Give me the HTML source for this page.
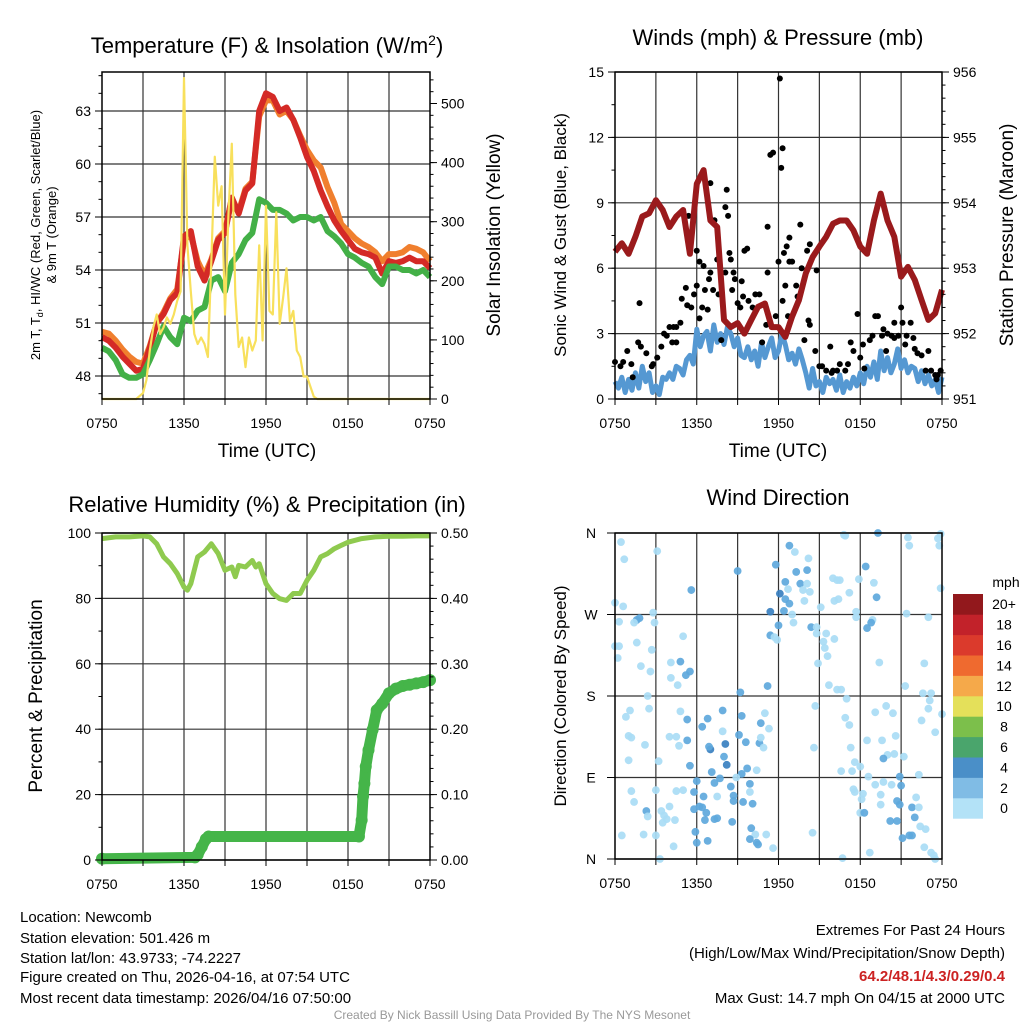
<!DOCTYPE html>
<html><head><meta charset="utf-8"><style>
html,body{margin:0;padding:0;background:#fff;}
svg{display:block;font-family:"Liberation Sans",sans-serif;}
</style></head><body>
<svg id="fig" width="1024" height="1024" viewBox="0 0 1024 1024" xmlns="http://www.w3.org/2000/svg">
<g id="layer"></g>
<text x="267" y="53" font-size="22" text-anchor="middle">Temperature (F) &amp; Insolation (W/m<tspan dy="-8" font-size="14">2</tspan><tspan dy="8">)</tspan></text>
<text x="778" y="45" font-size="22" text-anchor="middle">Winds (mph) &amp; Pressure (mb)</text>
<text x="267" y="512" font-size="22" text-anchor="middle">Relative Humidity (%) &amp; Precipitation (in)</text>
<text x="778" y="505" font-size="22" text-anchor="middle">Wind Direction</text>
<text x="267" y="457" font-size="19" text-anchor="middle">Time (UTC)</text>
<text x="778" y="457" font-size="19" text-anchor="middle">Time (UTC)</text>
<g font-size="13" text-anchor="middle">
<text transform="translate(40,235) rotate(-90)">2m T, T<tspan dy="3" font-size="9">d</tspan><tspan dy="-3">, HI/WC (Red, Green, Scarlet/Blue)</tspan></text>
<text transform="translate(56,235) rotate(-90)">&amp; 9m T (Orange)</text>
</g>
<text transform="translate(500,235) rotate(-90)" font-size="19" text-anchor="middle">Solar Insolation (Yellow)</text>
<text transform="translate(566,235) rotate(-90)" font-size="17" text-anchor="middle">Sonic Wind &amp; Gust (Blue, Black)</text>
<text transform="translate(1013,235) rotate(-90)" font-size="19" text-anchor="middle">Station Pressure (Maroon)</text>
<text transform="translate(42,696) rotate(-90)" font-size="19" text-anchor="middle">Percent &amp; Precipitation</text>
<text transform="translate(566,696) rotate(-90)" font-size="17" text-anchor="middle">Direction (Colored By Speed)</text>
<g font-size="15">
<text x="20" y="922">Location: Newcomb</text>
<text x="20" y="943">Station elevation: 501.426 m</text>
<text x="20" y="963">Station lat/lon: 43.9733; -74.2227</text>
<text x="20" y="982">Figure created on Thu, 2026-04-16, at 07:54 UTC</text>
<text x="20" y="1003">Most recent data timestamp: 2026/04/16 07:50:00</text>
</g>
<g font-size="15" text-anchor="end">
<text x="1005" y="935">Extremes For Past 24 Hours</text>
<text x="1005" y="958">(High/Low/Max Wind/Precipitation/Snow Depth)</text>
<text x="1005" y="981" fill="#cc2222" font-weight="bold">64.2/48.1/4.3/0.29/0.4</text>
<text x="1005" y="1003">Max Gust: 14.7 mph On 04/15 at 2000 UTC</text>
</g>
<text x="512" y="1019" font-size="12" fill="#999" text-anchor="middle">Created By Nick Bassill Using Data Provided By The NYS Mesonet</text>
</svg>
<script>
// ---- data ----
const xTickLabels = ["0750","1350","1950","0150","0750"];
const tempHours = [0,0.5,1,1.5,2,2.5,3,3.5,4,4.5,5,5.5,6,6.5,7,7.5,8,8.5,9,9.5,10,10.5,11,11.5,12,12.5,13,13.5,14,14.5,15,15.5,16,16.5,17,17.5,18,18.5,19,19.5,20,20.5,21,21.5,22,22.5,23,23.5,24];
const temp2m = [50.2,50.0,49.6,49.1,48.7,48.3,48.4,49.6,51.0,51.5,52.3,52.7,55.9,56.2,54.2,53.4,54.5,55.7,56.1,58.1,57.2,58.5,58.9,63.0,64.0,63.8,63.0,63.2,62.5,61.5,60.4,59.6,58.5,57.6,56.8,56.2,55.7,55.2,55.0,54.9,54.7,53.8,54.5,54.4,54.5,54.7,54.5,54.5,54.1];
const temp9m = [50.5,50.4,50.0,49.5,49.1,48.8,48.7,49.7,51.0,51.6,52.4,52.9,55.7,56.0,54.5,53.7,54.6,55.8,56.2,58.0,57.3,58.6,59.0,62.7,63.6,63.6,62.8,63.0,62.5,61.6,60.8,60.2,59.8,58.7,57.8,56.6,56.2,55.8,55.5,55.3,55.0,54.5,54.9,54.9,55.0,55.3,55.2,55.0,54.5];
const dewPoint = [49.6,49.4,48.9,48.1,47.9,47.9,48.1,48.9,49.8,50.8,50.2,49.8,51.3,51.1,51.7,51.9,53.4,53.6,52.8,54.4,54.9,55.7,56.1,58.0,57.8,57.4,57.4,57.2,56.8,57.0,57.0,56.8,57.0,56.2,55.9,55.5,54.9,54.7,54.4,54.2,53.6,53.2,54.2,54.2,54.0,54.0,53.8,54.0,53.6];
const solarHours = [0,2.5,3,3.25,3.5,3.75,4,4.25,4.5,4.75,5,5.25,5.5,5.75,6,6.25,6.5,6.75,7,7.25,7.5,7.75,8,8.25,8.5,8.75,9,9.25,9.5,9.75,10,10.25,10.5,10.75,11,11.25,11.5,11.75,12,12.25,12.5,12.75,13,13.25,13.5,13.75,14,14.25,14.5,14.75,15,15.25,15.5,15.75,24];
const solar = [0,0,10,32,82,121,143,110,121,138,127,143,166,182,543,260,182,110,93,104,93,71,232,410,327,360,143,310,432,177,88,104,54,104,82,99,260,99,327,149,143,316,127,171,221,132,149,82,71,38,38,21,4,0,0];
const pressHours = tempHours;
const pressure = [953.25,953.38,953.22,953.48,953.79,953.84,954.04,953.89,953.63,953.79,953.89,953.22,954.29,954.50,953.73,953.63,952.21,952.10,952.16,952.00,952.21,952.41,952.46,952.10,952.10,951.95,952.26,952.51,952.92,953.17,953.33,953.48,953.68,953.73,953.73,953.58,953.33,953.22,953.73,954.14,953.73,953.48,952.87,953.02,952.82,952.51,952.21,952.31,952.67];
const windSpeed = [0.8,0.5,1.0,0.3,0.9,0.4,1.2,0.5,1.5,0.8,1.2,0.3,0.6,0.2,1.0,0.9,1.2,0.9,1.5,1.4,1.1,1.8,2.0,1.6,3.2,2.4,2.9,3.1,2.2,3.4,2.6,3.0,2.5,3.3,3.0,2.4,2.8,2.0,1.9,2.4,1.8,2.2,1.5,2.6,1.9,2.4,2.8,1.9,2.2,3.0,2.5,1.8,2.1,1.6,2.3,1.8,1.2,0.5,1.4,0.6,0.8,0.3,1.0,0.7,0.9,0.4,1.1,0.3,0.8,0.5,1.0,0.6,1.2,0.7,1.5,1.0,1.7,0.9,2.2,1.3,1.9,1.2,1.6,2.3,1.4,1.8,1.2,1.5,1.4,0.8,1.3,0.7,1.1,0.6,0.9,0.3,1.0];
const gustHours = [0,0.4,0.6,0.9,1.2,1.3,1.8,1.7,1.9,2.3,2.7,2.8,3.1,3.4,3.6,3.8,4.0,4.2,4.3,4.5,4.5,4.8,4.9,5.2,5.3,5.4,5.6,5.8,6.0,6.0,6.2,6.2,6.4,6.5,6.6,6.8,6.9,7.0,7.0,7.2,7.3,7.5,7.6,7.8,8.1,8.1,8.2,8.3,8.4,8.5,8.6,8.7,8.8,9.0,9.2,9.3,9.4,9.5,9.7,9.8,10.1,10.3,10.6,10.8,11.1,11.2,11.2,11.4,11.6,11.8,12.0,12.1,12.2,12.3,12.3,12.4,12.5,12.6,12.8,12.8,13.0,12.7,13.3,13.4,13.6,13.7,14.1,14.3,14.2,14.3,13.9,14.8,14.7,15.2,15.8,15.5,15.9,16.3,16.5,16.9,17.1,17.3,17.5,17.8,18.0,18.2,18.3,18.7,18.9,19.1,19.3,19.6,19.7,19.9,20.0,20.3,20.5,20.5,20.8,21.0,21.1,21.3,21.4,21.7,21.9,22.0,22.2,22.5,22.8,23.0,23.2,23.5,23.7,23.9,23.6,15.0,16.0];
const gustSpeed = [1.7,1.5,1.7,2.2,1.6,1.0,4.4,2.6,2.4,2.1,1.5,1.6,1.9,2.4,3.0,2.9,3.3,2.6,3.3,2.6,3.3,3.5,4.6,5.1,4.3,8.4,4.2,4.8,5.2,6.8,6.3,3.7,4.2,6.1,5.0,4.1,5.5,5.8,9.9,5.0,8.2,6.4,4.8,2.7,5.8,8.8,9.6,8.4,6.7,6.4,5.0,5.8,5.5,4.4,4.2,5.4,4.7,6.8,6.9,4.5,4.2,4.8,4.8,2.6,3.4,5.8,7.9,11.2,11.3,3.8,6.3,14.7,10.6,11.5,4.5,6.7,5.2,7.0,7.4,6.3,6.3,3.8,5.2,4.7,8.0,6.0,6.8,7.1,3.6,3.4,2.7,5.9,2.2,1.5,2.4,1.3,1.2,1.3,1.6,1.3,1.6,2.6,2.2,3.9,1.9,2.5,1.4,2.7,2.9,3.8,3.8,2.9,3.2,2.2,3.0,2.9,3.5,2.8,2.9,4.2,3.5,2.5,2.9,3.5,2.8,2.3,2.1,2.0,1.3,2.2,1.3,1.1,1.1,1.3,0.9,1.5,1.3];
const rhHours = [0,1,2,3,3.5,4,4.5,5,5.5,6,6.25,6.5,7,7.5,8,8.5,9,9.5,9.75,10,10.5,11,11.25,11.5,12,12.5,13,13.5,14,14.5,15,15.5,16,16.5,17,17.5,18,19,20,21,22,23,24];
const rh = [98.3,98.8,98.8,99.1,98.8,96.7,92.7,90.6,87.6,83.5,82.5,84.5,92.7,94.2,96.7,93.7,88.6,89.6,86.6,90.1,89.6,91.6,89.6,90.6,84.5,81.5,79.9,79.4,81.5,81.5,85.5,88.6,92.7,93.7,95.2,96.2,97.2,98.3,98.8,99.0,99.0,99.1,99.1];
const precipHours = [0,6.8,7.0,7.3,7.6,7.8,18.8,19.0,19.1,19.2,19.3,19.5,19.8,20.1,20.5,21.0,21.5,22.0,22.5,23.0,23.5,24];
const precip = [0.002,0.004,0.008,0.02,0.032,0.036,0.036,0.061,0.097,0.117,0.143,0.168,0.199,0.229,0.239,0.255,0.262,0.266,0.268,0.270,0.272,0.275];
const dirHours = [0.44,0.68,3.1,0,0.6,0.3,0,0.3,0.2,1.6,1.8,1.4,2.8,2.9,1.6,1.9,2.6,2.7,5.0,5.6,4.1,4.8,5.5,5.2,4.1,4.6,2.4,2.5,0.8,1.1,1.0,1.2,2.2,1.0,3.2,4.8,5.3,4.0,4.5,4.7,5.3,5.5,1.2,1.4,2.3,2.4,0.5,2.1,3.0,3.0,3.3,3.4,4.0,3.6,3.8,3.5,4.4,4.3,4.5,5.0,5.8,5.8,6.2,6.0,6.4,6.7,6.6,7.3,7.5,5.9,6.0,6.8,6.5,7.5,8.6,8.5,8.7,8.7,9.4,10.1,9.9,10.0,10.3,9.9,10.4,10.5,11.1,11.6,7.1,7.3,7.7,7.0,6.9,8.1,8.0,8.2,7.9,6.4,6.8,7.9,9.3,9.1,9.6,9.3,9.7,9.9,8.9,10.4,10.6,10.7,10.9,10.7,11.0,11.3,9.2,11.2,9.0,11.8,12.8,13.2,13.3,14.1,14.2,12.5,12.1,12.7,12.5,12.8,11.4,12.4,13.0,13.1,12.0,11.4,11.7,11.9,13.6,13.8,14.3,13.9,14.1,14.4,14.8,14.8,15.5,15.1,15.3,15.4,15.6,16.1,14.9,14.7,14.6,14.5,15.7,16.3,16.6,17.0,16.9,17.2,17.3,17.6,17.4,16.6,17.5,17.6,18.0,18.2,18.1,18.0,18.3,16.7,18.7,18.5,19.1,19.6,18.6,19.1,19.5,19.5,19.7,20.3,20.7,20.9,21.0,20.9,21.2,20.5,20.0,19.7,19.9,20.4,20.6,21.3,19.4,20.2,20.7,21.1,21.6,21.8,22.0,21.8,22.1,22.3,22.4,22.8,22.7,23.2,23.4,23.5,22.3,22.5,23.0,23.1,22.6,23.2,23.5,24,22.7,23.0,21.4,23.9,23.8,23.7,23.9,21.5,21.6,19.3,16.8,16.9,18.4,19.0,19.2,17.9,17.2,16.0,16.3,16.5,16.1,16.4,17.7,17.7,18.9,18.5,18.8];
const dirDegrees = [350,331,340,283,279,262,235,235,222,264,266,261,272,261,239,213,207,231,246,297,217,218,207,203,200,192,180,166,157,164,136,134,126,109,108,163,154,135,135,125,131,103,75,63,53,47,26,27,26,76,0,53,58,48,44,40,43,14,75,76,74,55,58,86,57,51,43,44,45,30,18,20,69,69,41,80,70,64,63,61,74,34,27,22,18,16,27,12,96,84,89,121,124,127,113,104,141,146,155,164,158,137,129,94,100,83,90,98,128,134,123,150,161,144,184,191,318,325,346,339,317,319,332,306,293,298,287,282,273,274,270,261,258,247,245,242,304,297,295,285,304,256,256,249,249,278,240,233,224,243,216,169,123,29,192,187,187,177,156,148,123,107,97,97,77,74,102,72,66,51,51,1,7,131,162,131,91,82,71,60,85,82,64,60,81,91,113,116,115,111,169,161,136,191,217,42,42,23,26,26,46,57,68,57,36,33,13,7,4,0,93,153,166,175,183,183,140,160,216,267,271,299,346,354,359,355,346,360,358,357,323,305,289,309,294,310,308,308,285,287,273,267,264,255,261];
const dirSpeed = [1,1,1,1,1,1,1,1,1,3,3,1,1,1,1,1,1,1,1,3,1,3,3,3,1,1,1,1,1,1,1,1,1,1,1,1,3,1,1,1,3,3,1,1,3,1,1,1,1,1,1,1,1,1,1,1,1,1,1,1,3,3,3,3,3,3,3,3,3,3,3,3,3,1,3,3,3,3,3,3,1,3,1,3,3,3,1,1,3,3,3,5,3,5,3,5,1,3,3,3,3,3,3,3,3,3,1,1,3,1,1,3,1,1,3,3,3,3,3,1,3,3,1,3,5,1,3,3,5,3,1,1,3,3,1,1,3,1,1,1,1,3,1,1,1,1,1,1,1,1,1,1,1,1,1,1,1,1,1,1,1,1,1,1,1,1,1,1,1,1,3,1,1,1,1,1,1,1,1,1,1,1,3,3,3,3,1,1,1,3,1,1,1,1,1,3,3,3,3,3,3,3,1,1,1,1,1,1,1,1,1,1,1,1,1,1,1,1,1,1,1,1,1,1,1,1,1,3,1,1,3,1,3,1,1,1,1,1,1,1,1,1,1,3,3,3];
const colorbarLabels = ["0","2","4","6","8","10","12","14","16","18","20+"];
const colorbarColors = ["#b3e2f7","#80bce5","#4a8fc8","#4aa56c","#7cbf4b","#e4e05a","#f5a94a","#ef6a2f","#db3a2c","#c2222a","#92181c"];

// ---- helpers ----
const NS = "http://www.w3.org/2000/svg";
const layer = document.getElementById("layer");
function mk(tag, attrs, parent) {
  const e = document.createElementNS(NS, tag);
  for (const k in attrs) e.setAttribute(k, attrs[k]);
  (parent || layer).appendChild(e);
  return e;
}
function linScale(d0, d1, r0, r1) { return v => r0 + (v - d0) / (d1 - d0) * (r1 - r0); }
function pathD(xs, ys, fx, fy) { return xs.map((h, i) => (i ? "L" : "M") + fx(h).toFixed(1) + "," + fy(ys[i]).toFixed(1)).join(""); }

function frame(name, x0, x1, y0, y1, hLines) {
  const g = mk("g", {});
  
  
  const fx = linScale(0, 24, x0, x1);
  for (let h = 3; h < 24; h += 3) {
    const l = mk("line", {x1: fx(h), x2: fx(h), y1: y0, y2: y1, stroke: "#333", "stroke-width": 1.2}, g);
    
    
  }
  hLines.forEach(y => {
    const l = mk("line", {x1: x0, x2: x1, y1: y, y2: y, stroke: "#333", "stroke-width": 1.2}, g);
    
    
  });
  return {g, fx};
}
function border(x0, x1, y0, y1) {
  const r = mk("rect", {x: x0, y: y0, width: x1 - x0, height: y1 - y0, fill: "none", stroke: "#000", "stroke-width": 1.5});
  
  
}
function xAxis(fx, y1) {
  for (let h = 0; h <= 24; h += 3) mk("line", {x1: fx(h), x2: fx(h), y1: y1, y2: y1 + 6, stroke: "#000"});
  xTickLabels.forEach((lab, i) => {
    const t = mk("text", {x: fx(i * 6), y: y1 + 29, "font-size": 14, "text-anchor": "middle"});
    t.textContent = lab;
    
    
  });
}
function yTicks(vals, labels, fy, x, side, minorVals, yTop, yBot) {
  const dir = side === "left" ? -1 : 1;
  (minorVals || []).forEach(v => {
    const y = fy(v);
    if (y < yTop - 0.5 || y > yBot + 0.5) return;
    mk("line", {x1: x, x2: x + dir * 3.5, y1: y, y2: y, stroke: "#000"});
  });
  vals.forEach((v, i) => {
    mk("line", {x1: x, x2: x + dir * 7, y1: fy(v), y2: fy(v), stroke: "#000"});
    const t = mk("text", {x: x + dir * 11, y: fy(v) + 5, "font-size": 14, "text-anchor": side === "left" ? "end" : "start"});
    t.textContent = labels[i];
    
    
  });
}
function range(a, b, s) { const r = []; for (let v = a; v <= b + 1e-9; v += s) r.push(+v.toFixed(4)); return r; }

// ---- Panel 1: temperature ----
(function () {
  const x0 = 102, x1 = 430, y0 = 72, y1 = 399;
  const fyT = linScale(48, 63, 376, 111);
  const fyS = linScale(0, 500, 399, 103.5);
  const tv = [48, 51, 54, 57, 60, 63];
  const {fx} = frame("temperature", x0, x1, y0, y1, tv.map(fyT));
  const p1 = mk("path", {d: pathD(tempHours, temp9m, fx, fyT), fill: "none", stroke: "#f07f2e", "stroke-width": 6, "stroke-linejoin": "round"});
  
  
  const p2 = mk("path", {d: pathD(tempHours, temp2m, fx, fyT), fill: "none", stroke: "#d42a26", "stroke-width": 6, "stroke-linejoin": "round"});
  
  
  const p3 = mk("path", {d: pathD(tempHours, dewPoint, fx, fyT), fill: "none", stroke: "#43b047", "stroke-width": 6, "stroke-linejoin": "round"});
  
  
  const p4 = mk("path", {d: pathD(solarHours, solar, fx, fyS), fill: "none", stroke: "#f8e05c", "stroke-width": 2.2, "stroke-linejoin": "round"});
  
  
  border(x0, x1, y0, y1);
  xAxis(fx, y1);
  yTicks(tv, tv.map(String), fyT, x0, "left", range(47, 65, 1), y0, y1);
  const sv = [0, 100, 200, 300, 400, 500];
  yTicks(sv, sv.map(String), fyS, x1, "right", range(20, 540, 20), y0, y1);
})();

// ---- Panel 2: winds & pressure ----
(function () {
  const x0 = 615, x1 = 942, y0 = 72, y1 = 399;
  const fyW = linScale(0, 15, 399, 72);
  const fyP = linScale(951, 956, 399, 72);
  const wv = [0, 3, 6, 9, 12, 15];
  const {fx} = frame("winds", x0, x1, y0, y1, wv.map(fyW));
  const wh = windSpeed.map((v, i) => i * 0.25);
  const p = mk("path", {d: pathD(wh, windSpeed, fx, fyW), fill: "none", stroke: "#5598d2", "stroke-width": 5, "stroke-linejoin": "round"});
  
  
  gustHours.forEach((h, i) => {
    const c = mk("circle", {cx: fx(h), cy: fyW(gustSpeed[i]), r: 3, fill: "#000"});
    
    
  });
  const pp = mk("path", {d: pathD(pressHours, pressure, fx, fyP), fill: "none", stroke: "#9a1a1c", "stroke-width": 6, "stroke-linejoin": "round"});
  
  
  border(x0, x1, y0, y1);
  xAxis(fx, y1);
  yTicks(wv, wv.map(String), fyW, x0, "left", range(0, 15, 1.5), y0, y1);
  const pv = [951, 952, 953, 954, 955, 956];
  yTicks(pv, pv.map(String), fyP, x1, "right", range(951, 956, 0.2), y0, y1);
})();

// ---- Panel 3: humidity & precip ----
(function () {
  const x0 = 102, x1 = 430, y0 = 533, y1 = 860;
  const fyR = linScale(0, 100, 860, 533);
  const fyPr = linScale(0, 0.5, 860, 533);
  const rv = [0, 20, 40, 60, 80, 100];
  const {fx} = frame("humidity", x0, x1, y0, y1, rv.map(fyR));
  const p = mk("path", {d: pathD(rhHours, rh, fx, fyR), fill: "none", stroke: "#8fca4f", "stroke-width": 5, "stroke-linejoin": "round"});
  
  
  const pr = mk("path", {d: pathD(precipHours, precip, fx, fyPr), fill: "none", stroke: "#45b549", "stroke-width": 11, "stroke-linejoin": "round", "stroke-linecap": "round"});
  
  
  precipHours.forEach((h, i) => {
    const c = mk("circle", {cx: fx(h), cy: fyPr(precip[i]), r: 6, fill: "#45b549"});
    
    
  });
  border(x0, x1, y0, y1);
  xAxis(fx, y1);
  yTicks(rv, rv.map(String), fyR, x0, "left", range(0, 100, 10), y0, y1);
  const prv = [0, 0.1, 0.2, 0.3, 0.4, 0.5];
  yTicks(prv, prv.map(v => v.toFixed(2)), fyPr, x1, "right", range(0, 0.5, 0.02), y0, y1);
})();

// ---- Panel 4: wind direction ----
(function () {
  const x0 = 615, x1 = 942, y0 = 533, y1 = 859;
  const fyD = linScale(0, 360, 859, 533);
  const dv = [0, 90, 180, 270, 360];
  const {fx} = frame("wind-direction", x0, x1, y0, y1, dv.map(fyD));
  dirHours.forEach((h, i) => {
    const s = dirSpeed[i];
    const col = s < 2 ? "#a9dcf5" : (s < 4 ? "#5ea8dc" : "#3a80c0");
    const c = mk("circle", {cx: fx(h), cy: fyD(dirDegrees[i]), r: 3.9, fill: col, "fill-opacity": 0.92});
    
    
  });
  border(x0, x1, y0, y1);
  xAxis(fx, y1);
  const labs = ["N", "E", "S", "W", "N"];
  dv.forEach((v, i) => {
    mk("line", {x1: x0 - 8, x2: x0, y1: fyD(v), y2: fyD(v), stroke: "#000"});
    const t = mk("text", {x: x0 - 24, y: fyD(v) + 5, "font-size": 14, "text-anchor": "middle"});
    t.textContent = labs[i];
    
    
  });
  const cb = mk("g", {});
  
  
  const bh = 20.4, cbTop = 594;
  colorbarColors.forEach((c, i) => {
    const yy = cbTop + (10 - i) * bh;
    mk("rect", {x: 953, y: yy, width: 30, height: bh + 0.3, fill: c}, cb);
    const t = mk("text", {x: 1004, y: yy + bh / 2 + 5, "font-size": 14, "text-anchor": "middle"}, cb);
    t.textContent = colorbarLabels[i];
  });
  const u = mk("text", {x: 1006, y: 587, "font-size": 14, "text-anchor": "middle"}, cb);
  u.textContent = "mph";
})();
</script>
</body></html>
